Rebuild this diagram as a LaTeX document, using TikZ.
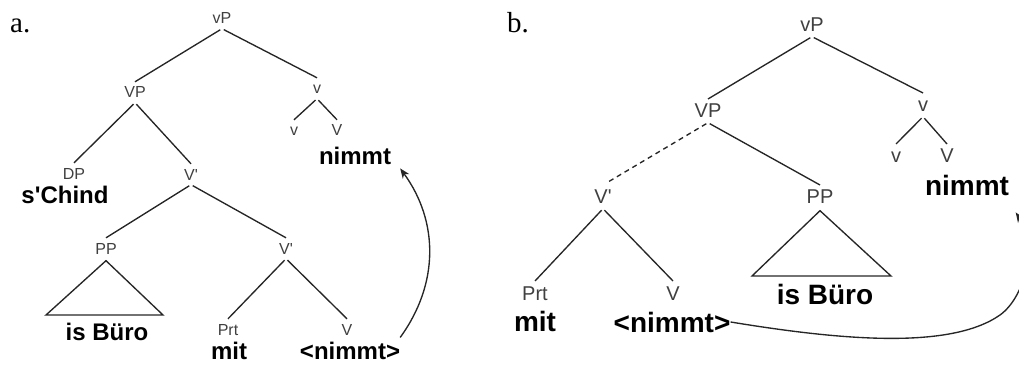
\documentclass[tikz,border=0pt]{standalone}
\usepackage{fontspec}
\setmainfont{Liberation Sans}
\newfontfamily\panelfont{Liberation Serif}
\usetikzlibrary{arrows.meta, positioning}
\definecolor{tgray}{RGB}{64,64,64}
\tikzset{
  cat/.style={anchor=base, text=tgray, inner xsep=0pt, inner ysep=4.5pt, text depth=0pt},
  catA/.style={cat, font=\fontsize{16}{18}\selectfont, text height=11.5pt},
  catB/.style={cat, font=\fontsize{20}{22}\selectfont, text height=14.3pt},
  wordA/.style={anchor=base, inner sep=0pt, font=\fontsize{24}{26}\selectfont\bfseries},
  wordB/.style={anchor=base, inner sep=0pt, font=\fontsize{28}{30}\selectfont\bfseries},
  panel/.style={anchor=base west, inner sep=0pt, font=\fontsize{29}{31}\selectfont\panelfont},
  branch/.style={draw=black!85, line width=1.35pt, shorten <=2pt},
  move/.style={draw=black!85, line width=1.35pt, -{Stealth[length=10pt, width=8pt]}}
}

\begin{document}
\begin{tikzpicture}[x=1pt, y=-1pt]
    \useasboundingbox (0,0) rectangle (1019,366);
    \clip (0,0) rectangle (1019,366);

    % tree a
    \node[panel] (la) at (10,33) {a.};
    \node[catA] (avP) at (222,24) {vP};
    \node[catA] (aVP) at (135,98) {VP};
    \node[catA] (av) at (317,94) {v};
    \node[catA] (avs) at (294,136) {v};
    \node[catA] (aVs) at (337,136) {V};
    \node[wordA] (anim) at (355,165) {nimmt};
    \node[catA] (aDP) at (74,179) {DP};
    \node[wordA] (achind) at (65,204) {s\textquotesingle Chind};
    \node[catA] (aVb) at (191,180) {V\textquotesingle};
    \node[catA] (aPP) at (106,254) {PP};
    \node[catA] (aVbb) at (286,254) {V\textquotesingle};
    \node[wordA] (abuero) at (107,340) {is Büro};
    \node[catA] (aPrt) at (228,335) {Prt};
    \node[wordA] (amit) at (229,359) {mit};
    \node[catA] (aV) at (347,335) {V};
    \node[wordA] (alow) at (350,359) {<nimmt>};
    \coordinate (aTl) at (46,315);
    \coordinate (aTr) at (163,315);

    \draw[branch] (avP.south) -- (aVP.north);
    \draw[branch] (avP.south) -- (av.north);
    \draw[branch] (av.south) -- (avs.north);
    \draw[branch] (av.south) -- (aVs.north);
    \draw[branch] (aVP.south) -- (aDP.north);
    \draw[branch] (aVP.south) -- (aVb.north);
    \draw[branch] (aVb.south) -- (aPP.north);
    \draw[branch] (aVb.south) -- (aVbb.north);
    \draw[branch] (aVbb.south) -- (aPrt.north);
    \draw[branch] (aVbb.south) -- (aV.north);
    \draw[branch, shorten <=0pt] ([yshift=-2pt]aPP.south) -- (aTl) -- (aTr) -- cycle;
    \draw[move] ([yshift=4pt]alow.north east) to[bend right=36] ([xshift=9pt,yshift=-3pt]anim.south east);

    % tree b
    \node[panel] (lb) at (507,33) {b.};
    \node[catB] (bvP) at (812,32) {vP};
    \node[catB] (bVP) at (708,118) {VP};
    \node[catB] (bv) at (923,112) {v};
    \node[catB] (bvs) at (896,163) {v};
    \node[catB] (bVs) at (947,163) {V};
    \node[wordB] (bnim) at (967,195) {nimmt};
    \node[catB] (bVb) at (603,204) {V\textquotesingle};
    \node[catB] (bPP) at (820,204) {PP};
    \node[wordB] (bbuero) at (825,304) {is Büro};
    \node[catB] (bPrt) at (535,300) {Prt};
    \node[wordB] (bmit) at (535,331) {mit};
    \node[catB] (bV) at (673,300) {V};
    \node[wordB] (blow) at (672,332) {<nimmt>};
    \coordinate (bTl) at (752,276);
    \coordinate (bTr) at (891,276);

    \draw[branch] (bvP.south) -- (bVP.north);
    \draw[branch] (bvP.south) -- (bv.north);
    \draw[branch] (bv.south) -- (bvs.north);
    \draw[branch] (bv.south) -- (bVs.north);
    \draw[branch, dashed, dash pattern=on 5pt off 4pt, shorten >=6pt] (bVP.south) -- (bVb.north);
    \draw[branch] (bVP.south) -- (bPP.north);
    \draw[branch] (bVb.south) -- (bPrt.north);
    \draw[branch] (bVb.south) -- (bV.north);
    \draw[branch, shorten <=0pt] ([yshift=-2pt]bPP.south) -- (bTl) -- (bTr) -- cycle;
    \draw[move] (blow.east) .. controls (840,340) and (950,350) .. (1000,315)
        .. controls (1025,297) and (1038,245) .. ([xshift=6.5pt,yshift=-17pt]bnim.south east);
\end{tikzpicture}
\end{document}
